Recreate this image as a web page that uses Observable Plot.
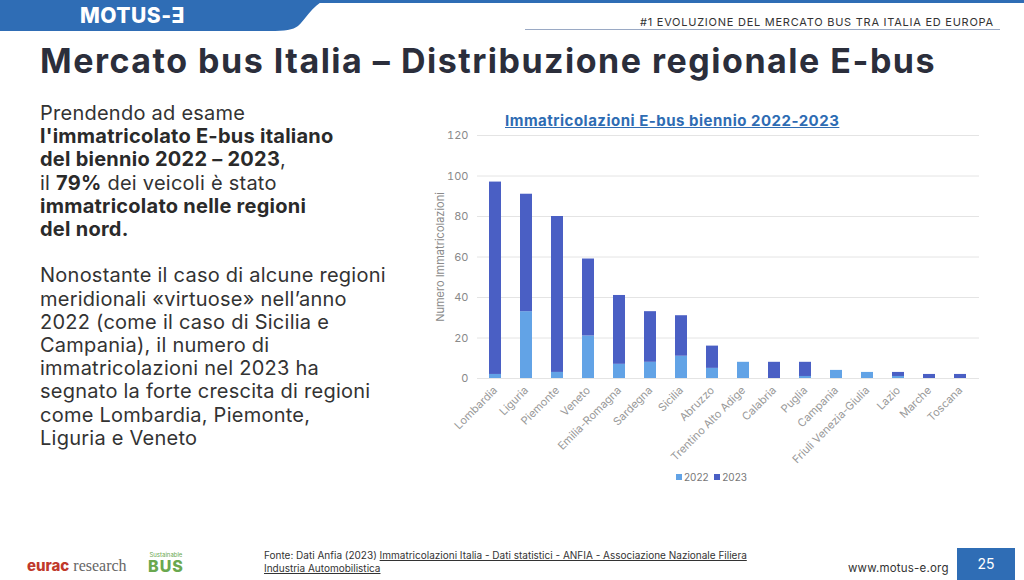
<!DOCTYPE html>
<html>
<head>
<meta charset="utf-8">
<script src="https://cdn.jsdelivr.net/npm/d3@7"></script>
<script src="https://cdn.jsdelivr.net/npm/@observablehq/plot@0.6"></script>
<style>
  html, body { margin:0; padding:0; }
  body { width:1024px; height:580px; position:relative; overflow:hidden; background:#fff; font-family: Inter, "Noto Sans", sans-serif; }
  .abs { position:absolute; }
  #title { left:40px; top:41px; font-size:34px; font-weight:700; color:#2b2e3b; line-height:40px; white-space:nowrap; letter-spacing:1.5px; }
  #intro { left:40px; top:102px; font-size:20px; line-height:23.2px; color:#333; white-space:nowrap; letter-spacing:0.25px; }
  #intro b { color:#2a2a2a; font-weight:700; }
  #chartTitle { left:505px; top:111px; font-size:15px; font-weight:700; color:#2e6cb3; text-decoration:underline; white-space:nowrap; letter-spacing:0.5px; }
  #chart { left:420px; top:128px; }
  #legend { left:676px; top:471px; font-size:10px; color:#777; white-space:nowrap; }
  #legend span.sw { display:inline-block; width:6px; height:6px; margin-right:2px; vertical-align:1px; }
  #hdrtext { left:640px; top:15px; font-size:11px; color:#333; white-space:nowrap; letter-spacing:0.75px; }
  #hdrline { left:525px; top:29px; width:475px; height:1px; background:#9aa9c4; }
  #logo { left:80px; top:3px; font-size:21px; font-weight:800; color:#fff; white-space:nowrap; letter-spacing:0.5px; }
  #fonte { left:264px; top:549px; font-size:10px; line-height:13px; color:#333; white-space:nowrap; }
  #fonte u { text-decoration:underline; }
  #www { left:848px; top:561px; font-size:11.5px; color:#333; white-space:nowrap; letter-spacing:0.2px; }
  #page { left:957px; top:548px; width:58px; height:32px; background:#2f6db5; color:#fff; font-size:14px; line-height:32px; text-align:center; }
  #eurac { left:27px; top:556px; font-size:16px; white-space:nowrap; font-family:"Liberation Serif", serif; color:#666; }
  #eurac b { color:#c0392b; font-family:Inter, sans-serif; font-weight:800; font-size:15px; }
  #sbus { left:148px; top:551px; font-size:6px; color:#6aa84f; line-height:7px; text-align:center; }
  #sbus div { font-size:16px; font-weight:800; line-height:16px; letter-spacing:1px; }
</style>
</head>
<body>
<svg class="abs" style="left:0;top:0" width="1024" height="34">
  <rect x="0" y="0" width="1024" height="3" fill="#2f6db5"></rect>
  <path d="M0,0 L325,0 C312,6 305,20 298,26 C293,30 285,31 270,31 L0,31 Z" fill="#2f6db5"></path>
</svg>
<div id="logo" class="abs">MOTUS-Ǝ</div>
<div id="hdrtext" class="abs">#1 EVOLUZIONE DEL MERCATO BUS TRA ITALIA ED EUROPA</div>
<div id="hdrline" class="abs"></div>
<div id="title" class="abs">Mercato bus Italia – Distribuzione regionale E-bus</div>
<div id="intro" class="abs">Prendendo ad esame<br><b>l'immatricolato E-bus italiano<br>del biennio 2022 – 2023</b>,<br>il <b>79%</b> dei veicoli è stato<br><b>immatricolato nelle regioni<br>del nord.</b><br><br>Nonostante il caso di alcune regioni<br>meridionali «virtuose» nell’anno<br>2022 (come il caso di Sicilia e<br>Campania), il numero di<br>immatricolazioni nel 2023 ha<br>segnato la forte crescita di regioni<br>come Lombardia, Piemonte,<br>Liguria e Veneto</div>
<div id="chartTitle" class="abs">Immatricolazioni E-bus biennio 2022-2023</div>
<div id="chart" class="abs"></div>
<div id="legend" class="abs"></div>
<div id="eurac" class="abs"><b>eurac</b> research</div>
<div id="sbus" class="abs">Sustainable<div>BUS</div></div>
<div id="fonte" class="abs">Fonte: Dati Anfia (2023) <u>Immatricolazioni Italia - Dati statistici - ANFIA - Associazione Nazionale Filiera</u><br><u>Industria Automobilistica</u></div>
<div id="www" class="abs">www.motus-e.org</div>
<div id="page" class="abs">25</div>
<script>
const regions = ["Lombardia","Liguria","Piemonte","Veneto","Emilia-Romagna","Sardegna","Sicilia","Abruzzo","Trentino Alto Adige","Calabria","Puglia","Campania","Friuli Venezia-Giulia","Lazio","Marche","Toscana"];
const years = ["2022","2023"];
const values2022 = [2,33,3,21,7,8,11,5,8,0,1,4,3,1,0,0];
const values2023 = [95,58,77,38,34,25,20,11,0,8,7,0,0,2,2,2];
const yTicks = [0,20,40,60,80,100,120];
const colors = ["#62a3e6","#4a5fc4"];

const data = [];
regions.forEach((r,i) => {
  data.push({region:r, year:"2022", value:values2022[i]});
  data.push({region:r, year:"2023", value:values2023[i]});
});

const chart = Plot.plot({
  width:580, height:345,
  marginLeft:57, marginRight:21, marginTop:7, marginBottom:95,
  style:{fontFamily:"Inter, 'Noto Sans', sans-serif", fontSize:"10px", color:"#8a8a8a", background:"transparent"},
  x:{domain:regions, paddingInner:0.6, paddingOuter:0.3, label:null},
  y:{domain:[0,120], label:null},
  color:{domain:years, range:colors},
  marks:[
    Plot.gridY(yTicks, {stroke:"#e4e4e4", strokeOpacity:1}),
    Plot.barY(data, {x:"region", y:"value", fill:"year", order:years}),
    Plot.axisY(yTicks, {tickSize:0, tickPadding:9, fontSize:11, label:"Numero Immatricolazioni", labelAnchor:"center", labelArrow:"none", labelOffset:41}),
    Plot.axisX({tickSize:0, tickPadding:10, tickRotate:-45, label:null, fontSize:11, fill:"#999"})
  ]
});
document.getElementById("chart").appendChild(chart);

const legend = document.getElementById("legend");
legend.innerHTML = years.map((y,i) => `<span class="sw" style="background:${colors[i]}"></span>${y}`).join("&nbsp;&nbsp;");
</script>
</body>
</html>
